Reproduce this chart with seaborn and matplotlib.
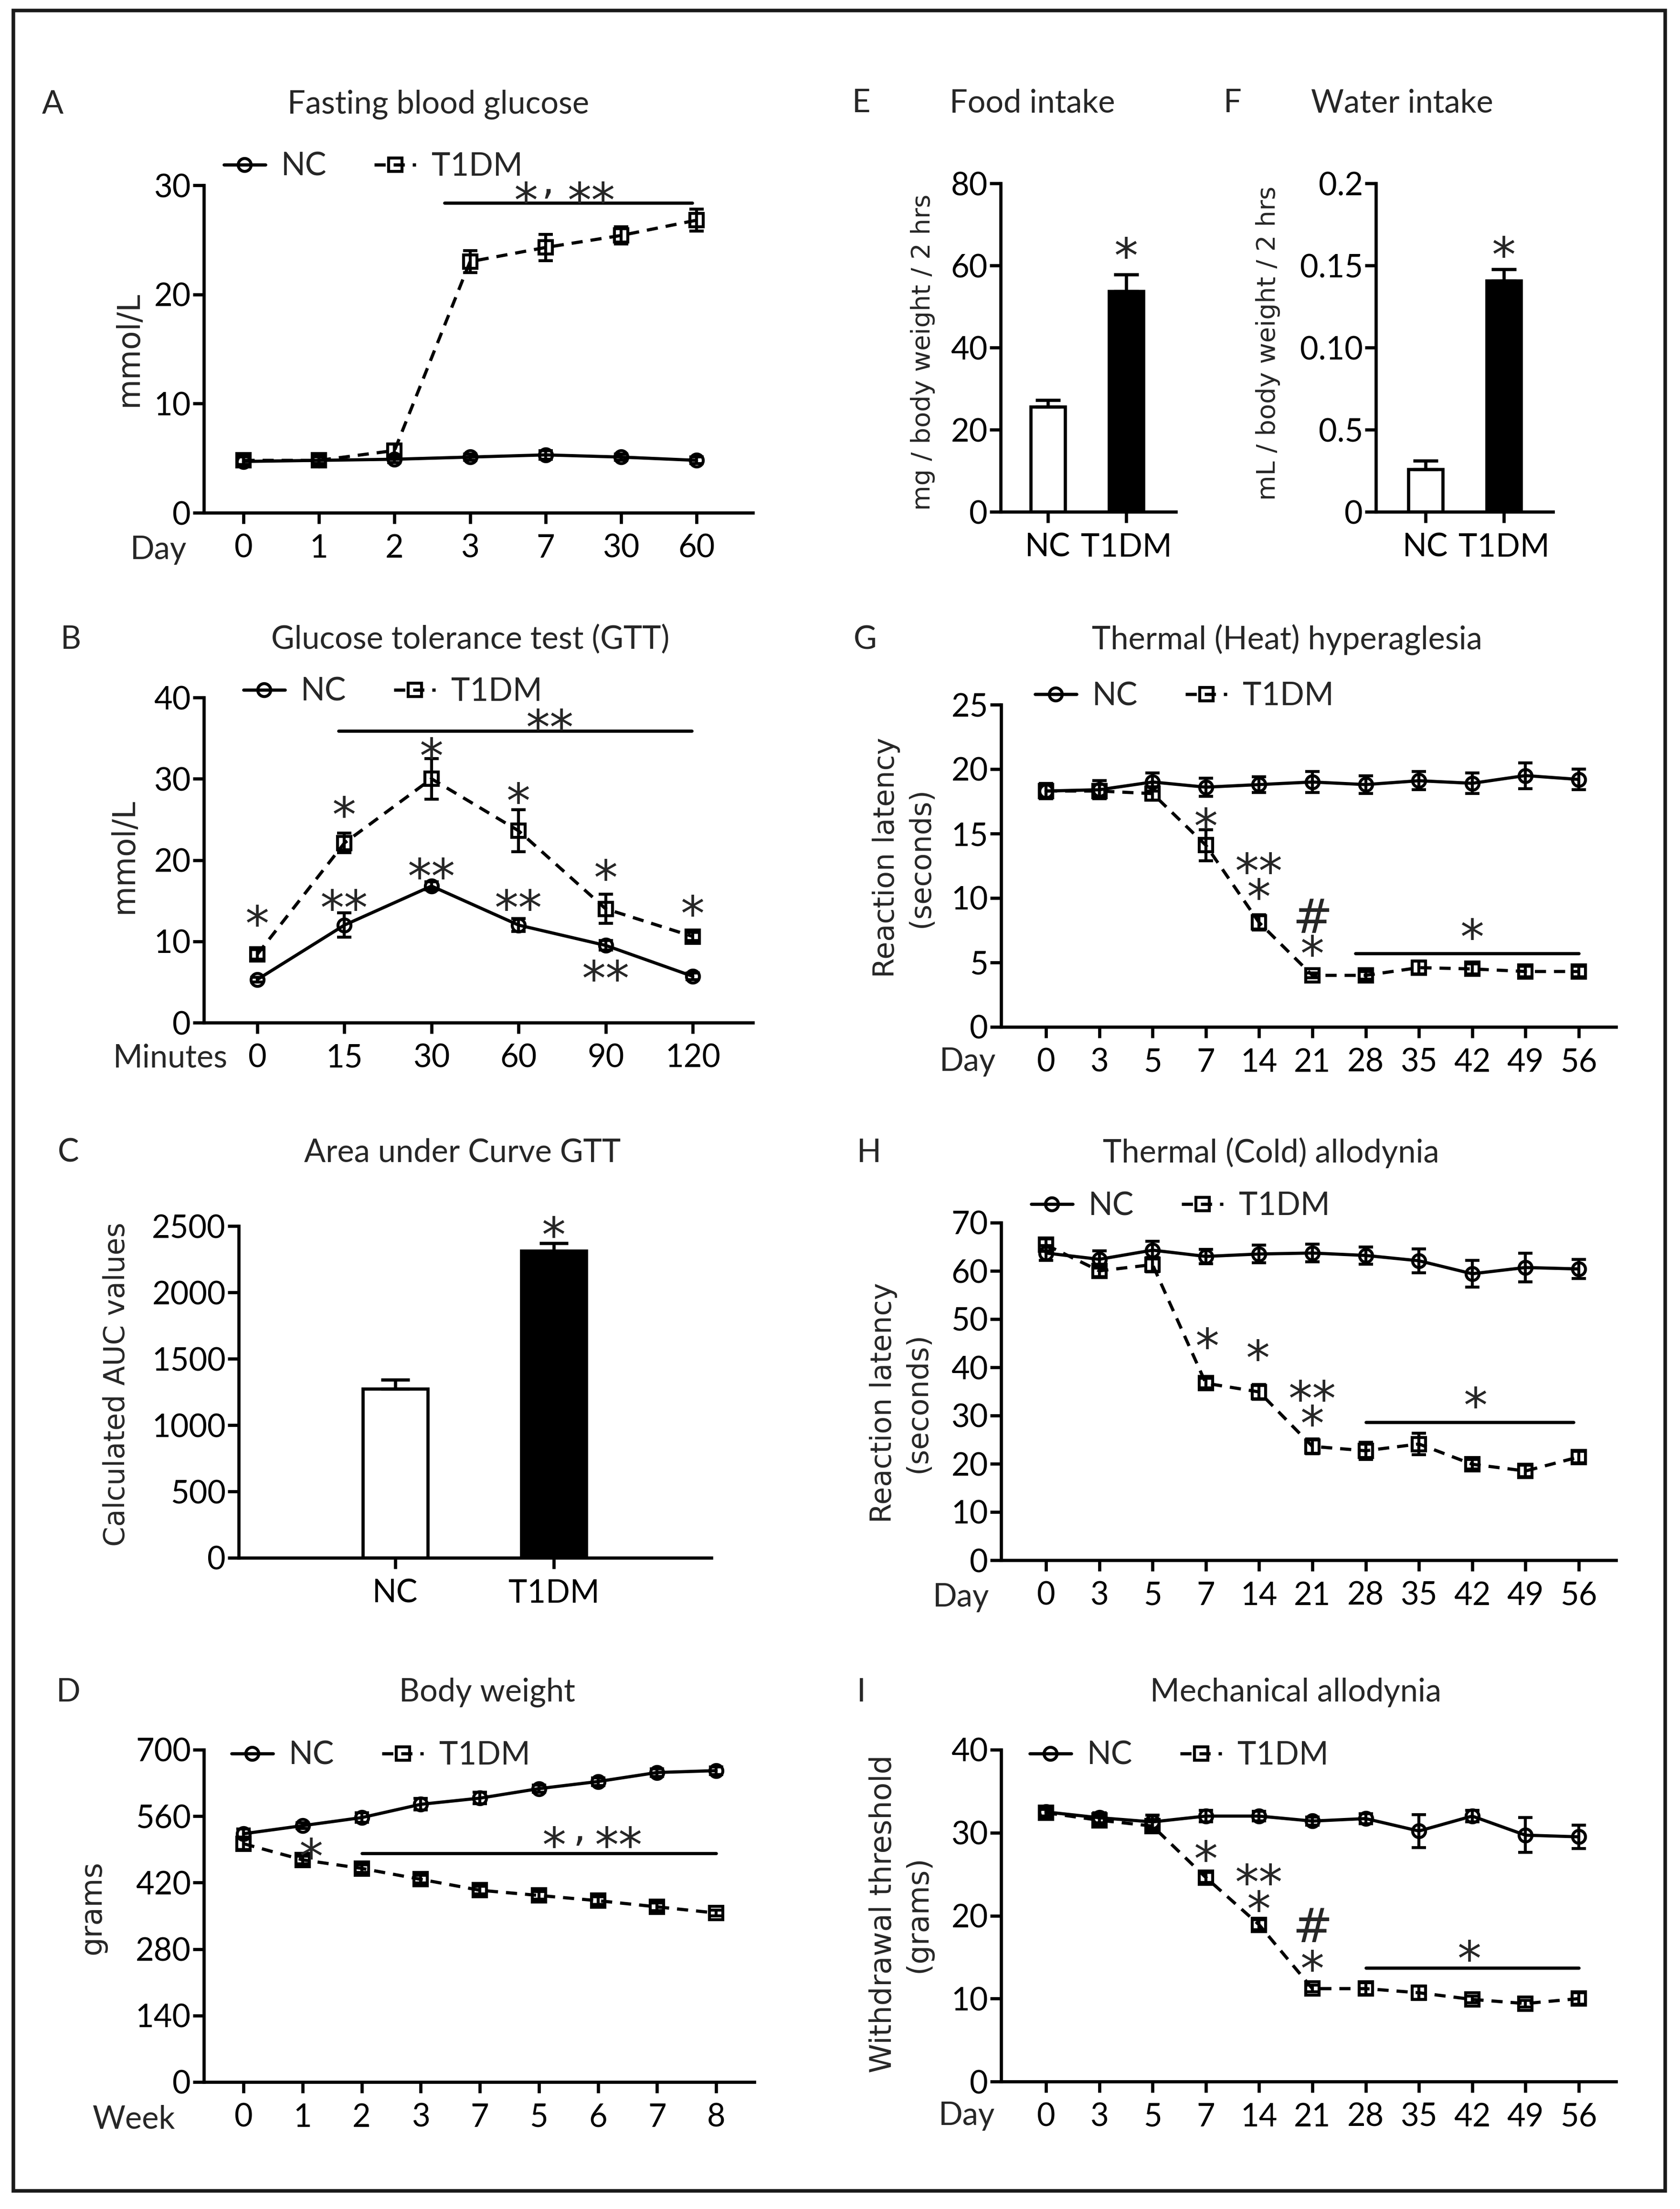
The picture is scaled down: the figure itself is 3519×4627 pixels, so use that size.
import numpy as np
import pandas as pd
import matplotlib
matplotlib.use("Agg")
import matplotlib.pyplot as plt
from matplotlib.lines import Line2D
from matplotlib.patches import Rectangle
from matplotlib.transforms import ScaledTranslation
import seaborn as sns

W, H, DPI = 3520, 4627, 300

sns.set_style("ticks")
plt.rcParams["font.family"] = ["Lato", "DejaVu Sans"]

# ---------------- data ----------------
GROUPS = ["NC", "T1DM"]

A_DAYS = ["0", "1", "2", "3", "7", "30", "60"]
A_NC = [4.7, 4.8, 4.9, 5.1, 5.3, 5.1, 4.8]
A_NC_ERR = [0.4, 0.3, 0.3, 0.3, 0.4, 0.3, 0.3]
A_T1 = [4.8, 4.8, 5.7, 23.0, 24.3, 25.4, 26.8]
A_T1_ERR = [0.4, 0.4, 0.6, 1.0, 1.2, 0.8, 1.0]

B_MIN = ["0", "15", "30", "60", "90", "120"]
B_NC = [5.3, 12.0, 16.8, 12.0, 9.5, 5.7]
B_NC_ERR = [0.3, 1.5, 0.5, 0.8, 0.6, 0.4]
B_T1 = [8.4, 22.1, 30.0, 23.6, 14.0, 10.6]
B_T1_ERR = [0.6, 1.2, 2.5, 2.6, 1.8, 0.5]

C_AUC = [1273, 2312]
C_ERR = [69, 60]

D_WEEKS = ["0", "1", "2", "3", "7", "5", "6", "7", "8"]
D_NC = [523, 540, 557, 585, 598, 618, 633, 652, 656]
D_NC_ERR = [10, 6, 10, 12, 12, 8, 8, 8, 8]
D_T1 = [502, 468, 450, 427, 404, 393, 382, 369, 356]
D_T1_ERR = [12, 8, 8, 8, 8, 8, 8, 8, 6]

E_FOOD = [25.6, 53.7]
E_ERR = [1.6, 4.1]

F_WATER = [0.0259, 0.1408]
F_ERR = [0.0053, 0.0068]
F_TICKLABELS = ["0", "0.5", "0.10", "0.15", "0.2"]

DAYS = ["0", "3", "5", "7", "14", "21", "28", "35", "42", "49", "56"]
G_NC = [18.3, 18.4, 19.0, 18.6, 18.8, 19.0, 18.8, 19.1, 18.9, 19.5, 19.2]
G_NC_ERR = [0.6, 0.7, 0.7, 0.7, 0.6, 0.8, 0.7, 0.7, 0.8, 1.0, 0.8]
G_T1 = [18.3, 18.3, 18.1, 14.1, 8.1, 4.0, 4.0, 4.6, 4.5, 4.3, 4.3]
G_T1_ERR = [0.5, 0.5, 0.5, 1.2, 0.6, 0.2, 0.3, 0.5, 0.4, 0.4, 0.4]

H_NC = [63.7, 62.4, 64.3, 63.0, 63.5, 63.7, 63.2, 62.1, 59.4, 60.7, 60.4]
H_NC_ERR = [1.5, 1.8, 1.8, 1.5, 1.8, 1.8, 1.8, 2.5, 2.8, 3.0, 2.0]
H_T1 = [65.4, 60.0, 61.3, 36.7, 34.9, 23.6, 22.7, 24.1, 19.9, 18.5, 21.4]
H_T1_ERR = [1.2, 1.2, 1.5, 1.0, 1.5, 1.5, 1.8, 2.2, 1.0, 1.2, 1.2]

I_NC = [32.5, 31.8, 31.3, 32.0, 32.0, 31.4, 31.7, 30.2, 32.0, 29.7, 29.5]
I_NC_ERR = [0.5, 0.6, 0.8, 0.7, 0.6, 0.5, 0.6, 2.0, 0.7, 2.1, 1.4]
I_T1 = [32.4, 31.5, 30.8, 24.6, 18.9, 11.2, 11.2, 10.7, 9.9, 9.4, 10.0]
I_T1_ERR = [0.4, 0.5, 0.6, 0.6, 0.6, 0.4, 0.7, 0.8, 0.4, 0.4, 0.7]

# significance marks: (x position, y of the lowest glyph, text[, line spacing]),
# commas: (x, y of baseline), bars: (x start, x end, y)
A_NOTES = [(3.74, 29.6, "*"), (4.61, 29.6, "**")]
A_COMMAS = [(4.03, 29.2)]
A_BAR = (2.66, 5.94, 28.4)
B_NOTES = [(0, 13.5, "*"), (1, 26.9, "*"), (2, 34.1, "*"), (3, 28.6, "*"), (4, 19.1, "*"),
           (5, 14.7, "*"), (1, 15.4, "**"), (2, 19.3, "**"), (3, 15.4, "**"), (4, 6.7, "**"),
           (3.36, 37.6, "**")]
B_BAR = (0.93, 4.99, 35.9)
C_NOTES = [(1, 2511, "*")]
D_NOTES = [(1.15, 497, "*"), (5.26, 521, "*"), (6.35, 521, "**")]
D_COMMAS = [(5.69, 508)]
D_BAR = (2, 8, 482)
E_NOTES = [(1, 64.9, "*")]
F_NOTES = [(1, 0.163, "*")]
G_NOTES = [(3, 16.4, "*"), (4, 10.9, "**\n*", 0.44), (5, 6.5, "#\n*", 0.76), (8, 7.8, "*")]
G_BAR = (5.81, 10, 5.7)
H_NOTES = [(3.03, 46.6, "*"), (3.98, 44.1, "*"), (5.0, 30.5, "**\n*", 0.41),
           (8.07, 34.3, "*")]
H_BAR = (6, 9.9, 28.6)
I_NOTES = [(3, 28.1, "*"), (4, 22.1, "**\n*", 0.45), (5, 14.9, "#\n*", 0.91),
           (7.95, 16.1, "*")]
I_BAR = (6, 10, 13.7)

# ---------------- style ----------------
LW = 1.6          # axis / line width (pt)
MS = 6.5          # marker size
MEW = 1.5
TICK_FS = 16
TITLE_FS = 16
NOTE_FS = 24
DASH = (0, (3.5, 2.5))

fig = plt.figure(figsize=(W / DPI, H / DPI), dpi=DPI)


def add_ax(x0, x1, ytop, ybot):
    return fig.add_axes([x0 / W, 1 - ybot / H, (x1 - x0) / W, (ybot - ytop) / H])


def ftext(px, py, s, **kw):
    fig.text(px / W, 1 - py / H, s, ha="center", va="center", **kw)


def style_axis(ax, xlim, ylim, yticks, yticklabels=None):
    sns.despine(ax=ax)
    for sp in ("left", "bottom"):
        ax.spines[sp].set_linewidth(LW)
        ax.spines[sp].set_color("black")
    ax.set_xlim(*xlim)
    ax.set_ylim(*ylim)
    ax.set_yticks(yticks)
    if yticklabels is not None:
        ax.set_yticklabels(yticklabels)
    ax.tick_params(axis="both", length=5.5, width=LW, labelsize=TICK_FS, colors="black")
    ax.tick_params(axis="y", pad=1)
    ax.tick_params(axis="x", pad=5)
    ax.set_xlabel("")
    ax.set_ylabel("")


def add_notes(ax, notes, bar=None, commas=()):
    # baseline-anchored, shifted so the asterisk centre lands on the given y
    shift = ScaledTranslation(0, -0.575 * NOTE_FS / 72, fig.dpi_scale_trans)
    for note in notes:
        x, y, s = note[:3]
        ls = note[3] if len(note) > 3 else 1.0
        ax.text(x, y, s, ha="center", va="baseline", fontsize=NOTE_FS, family="DejaVu Sans",
                linespacing=ls, multialignment="center", transform=ax.transData + shift)
    for x, y in commas:
        ax.text(x, y, ",", ha="center", va="baseline", fontsize=NOTE_FS - 4,
                family="DejaVu Sans")
    if bar is not None:
        ax.plot([bar[0], bar[1]], [bar[2], bar[2]], color="black", lw=LW)


def line_panel(box, labels, nc, nc_err, t1, t1_err, xlim, ylim, yticks, legend_at):
    ax = add_ax(*box)
    pos = np.arange(len(labels))
    df = pd.DataFrame({"pos": np.concatenate([pos, pos]),
                       "val": nc + t1,
                       "group": ["NC"] * len(pos) + ["T1DM"] * len(pos)})
    # T1DM first so the NC circles sit on top where the curves overlap
    sns.lineplot(data=df[df.group == "T1DM"], x="pos", y="val", ax=ax, color="black",
                 lw=LW, linestyle=DASH, marker="s", markersize=MS, markerfacecolor="none",
                 markeredgecolor="black", markeredgewidth=MEW, errorbar=None)
    ax.errorbar(pos, t1, yerr=t1_err, fmt="none", ecolor="black", elinewidth=MEW,
                capsize=3.7, capthick=MEW)
    sns.lineplot(data=df[df.group == "NC"], x="pos", y="val", ax=ax, color="black",
                 lw=LW, linestyle="-", marker="o", markersize=MS, markerfacecolor="none",
                 markeredgecolor="black", markeredgewidth=MEW, errorbar=None)
    ax.errorbar(pos, nc, yerr=nc_err, fmt="none", ecolor="black", elinewidth=MEW,
                capsize=3.7, capthick=MEW)
    ax.set_xticks(pos)
    ax.set_xticklabels(labels)
    style_axis(ax, xlim, ylim, yticks)

    handles = [Line2D([], [], color="black", lw=LW, marker="o", ms=MS, mfc="none", mew=MEW),
               Line2D([], [], color="black", lw=LW, ls=DASH, marker="s", ms=MS, mfc="none",
                      mew=MEW)]
    ax.legend(handles, GROUPS, ncol=2, frameon=False, fontsize=TICK_FS, loc="center left",
              bbox_to_anchor=(legend_at[0] / W, 1 - legend_at[1] / H),
              bbox_transform=fig.transFigure, borderpad=0, borderaxespad=0,
              handlelength=1.3, handletextpad=0.5, columnspacing=1.5)
    return ax


def bar_panel(box, values, errs, xlim, ylim, yticks, capsize, yticklabels=None):
    ax = add_ax(*box)
    width = 0.44 if box[1] - box[0] < 500 else 0.41
    sns.barplot(x=GROUPS, y=values, hue=GROUPS, palette=["white", "black"], legend=False,
                edgecolor="black", linewidth=LW, width=width, errorbar=None, ax=ax)
    ax.errorbar([0, 1], values, yerr=[[0, 0], errs], fmt="none", ecolor="black",
                elinewidth=LW, capsize=capsize, capthick=LW)
    style_axis(ax, xlim, ylim, yticks, yticklabels)
    return ax


# ---------------- panels ----------------
ax = line_panel((427, 1577, 388, 1074), A_DAYS, A_NC, A_NC_ERR, A_T1, A_T1_ERR,
                (-0.525, 6.746), (0, 30), [0, 10, 20, 30], (469, 349))
add_notes(ax, A_NOTES, A_BAR, A_COMMAS)

ax = line_panel((427, 1577, 1461, 2142), B_MIN, B_NC, B_NC_ERR, B_T1, B_T1_ERR,
                (-0.614, 5.69), (0, 40), [0, 10, 20, 30, 40], (510, 1449))
add_notes(ax, B_NOTES, B_BAR)

ax = bar_panel((500, 1490, 2568, 3263), C_AUC, C_ERR, (-0.988, 1.994), (0, 2500),
               [0, 500, 1000, 1500, 2000, 2500], 7.3)
add_notes(ax, C_NOTES)

ax = line_panel((427, 1580, 3665, 4361), D_WEEKS, D_NC, D_NC_ERR, D_T1, D_T1_ERR,
                (-0.671, 8.646), (0, 700), [0, 140, 280, 420, 560, 700], (485, 3677))
add_notes(ax, D_NOTES, D_BAR, D_COMMAS)

ax = bar_panel((2096, 2463, 384, 1072), E_FOOD, E_ERR, (-0.604, 1.634), (0, 80),
               [0, 20, 40, 60, 80], 6.2)
add_notes(ax, E_NOTES)

ax = bar_panel((2882, 3253, 384, 1072), F_WATER, F_ERR, (-0.634, 1.628), (0, 0.2),
               [0, 0.05, 0.10, 0.15, 0.2], 6.2, F_TICKLABELS)
add_notes(ax, F_NOTES)

ax = line_panel((2097, 3385, 1476, 2151), DAYS, G_NC, G_NC_ERR, G_T1, G_T1_ERR,
                (-0.842, 10.70), (0, 25), [0, 5, 10, 15, 20, 25], (2168, 1458))
add_notes(ax, G_NOTES, G_BAR)

ax = line_panel((2097, 3385, 2561, 3268), DAYS, H_NC, H_NC_ERR, H_T1, H_T1_ERR,
                (-0.842, 10.70), (0, 70), [0, 10, 20, 30, 40, 50, 60, 70], (2160, 2526))
add_notes(ax, H_NOTES, H_BAR)

ax = line_panel((2097, 3385, 3665, 4360), DAYS, I_NC, I_NC_ERR, I_T1, I_T1_ERR,
                (-0.842, 10.70), (0, 40), [0, 10, 20, 30, 40], (2157, 3677))
add_notes(ax, I_NOTES, I_BAR)

# ---------------- titles, panel letters, axis words ----------------
for px, py, s in [(110, 219, "A"), (148, 1340, "B"), (143, 2415, "C"), (143, 3545, "D"),
                  (1804, 216, "E"), (2582, 216, "F"), (1812, 1340, "G"), (1820, 2415, "H"),
                  (1804, 3545, "I")]:
    ftext(px, py, s, fontsize=TITLE_FS)

for px, py, s in [(918, 219, "Fasting blood glucose"), (985, 1340, "Glucose tolerance test (GTT)"),
                  (969, 2415, "Area under Curve GTT"), (1020, 3545, "Body weight"),
                  (2162, 216, "Food intake"), (2937, 216, "Water intake"),
                  (2696, 1340, "Thermal (Heat) hyperaglesia"),
                  (2662, 2415, "Thermal (Cold) allodynia"), (2714, 3545, "Mechanical allodynia")]:
    ftext(px, py, s, fontsize=TITLE_FS)

for px, py, s in [(332, 1152, "Day"), (357, 2217, "Minutes"), (281, 4440, "Week"),
                  (2027, 2224, "Day"), (2013, 3346, "Day"), (2025, 4432, "Day")]:
    ftext(px, py, s, fontsize=TICK_FS)

for px, py, s, fs in [(270, 731, "mmol/L", 15.5), (260, 1793, "mmol/L", 15.5),
                      (245, 2900, "Calculated AUC values", 14.4), (194, 3996, "grams", 15),
                      (1933, 738, "mg / body weight / 2 hrs", 13),
                      (2656, 719, "mL / body weight / 2 hrs", 13),
                      (1893, 1796, "Reaction latency\n(seconds)", 14.5),
                      (1887, 2938, "Reaction latency\n(seconds)", 14.5),
                      (1887, 4009, "Withdrawal threshold\n(grams)", 15)]:
    ftext(px, py, s, fontsize=fs, rotation=90, family="DejaVu Sans", linespacing=1.3)

fig.patches.append(Rectangle((28 / W, 1 - 4589 / H), (3488 - 28) / W, (4589 - 22) / H,
                             transform=fig.transFigure, fill=False, lw=1.8, ec="#1a1a1a"))

fig.savefig("out.png", dpi=DPI)
